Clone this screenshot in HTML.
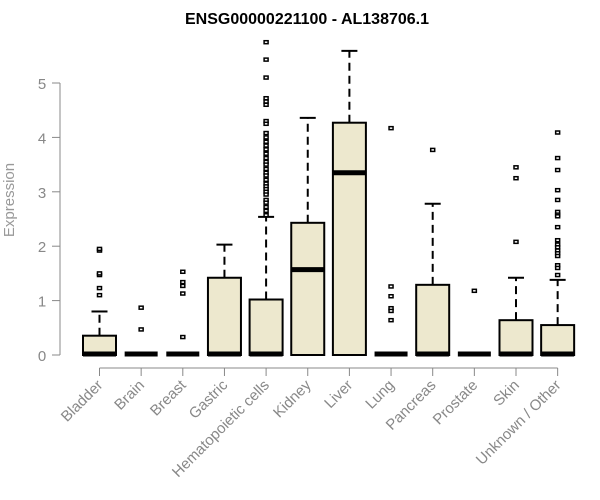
<!DOCTYPE html>
<html><head><meta charset="utf-8"><style>
body{margin:0;background:#fff;}
svg{display:block;font-family:"Liberation Sans",Arial,sans-serif;}
</style></head><body>
<svg id="chart" width="600" height="500" xmlns="http://www.w3.org/2000/svg">
<text x="307" y="24" text-anchor="middle" font-weight="bold" font-size="16" fill="#000">ENSG00000221100 - AL138706.1</text>
<text transform="translate(14,200) rotate(-90)" text-anchor="middle" font-size="15" fill="#999">Expression</text>
<g id="yaxis"></g>
<g id="xaxis"></g>
<g id="boxes"></g>
</svg>
<script>
const categories=["Bladder","Brain","Breast","Gastric","Hematopoietic cells","Kidney","Liver","Lung","Pancreas","Prostate","Skin","Unknown / Other"];
const q1=[0,0,0,0,0,0,0,0,0,0,0,0];
const medians=[0,0,0,0,0,1.57,3.35,0,0,0,0,0];
const q3=[0.355,0,0,1.42,1.02,2.43,4.27,0,1.29,0,0.64,0.55];
const whiskHi=[0.8,0,0,2.03,2.54,4.36,5.59,0,2.78,0,1.42,1.38];
const outliers=[
 [1.92,1.95,1.47,1.5,1.23,1.1],
 [0.87,0.47],
 [1.53,1.34,1.27,1.13,0.33],
 [],
 [5.75,5.43,5.1,4.72,4.66,4.6,4.3,4.25,4.08,4.0,3.92,3.85,3.78,3.7,3.62,3.55,3.5,3.42,3.35,3.3,3.22,3.15,3.1,3.05,3.0,2.95,2.85,2.8,2.72,2.65,2.57],
 [],[],
 [4.17,1.26,1.08,0.86,0.81,0.64],
 [3.77],
 [1.18],
 [3.45,3.25,2.08],
 [4.09,3.62,3.4,3.03,2.85,2.63,2.58,2.55,2.35,2.11,2.03,1.98,1.92,1.87,1.82,1.65,1.6,1.47]
];
const yTicks=[0,1,2,3,4,5];
const NS="http://www.w3.org/2000/svg";
const y=v=>355-v*54.4;
const x=i=>99.5+41.65*i;
function mk(tag,attrs,parent){const e=document.createElementNS(NS,tag);for(const k in attrs)e.setAttribute(k,attrs[k]);parent.appendChild(e);return e;}
const ya=document.getElementById('yaxis'),xa=document.getElementById('xaxis'),bx=document.getElementById('boxes');
let l=mk('line',{x1:60,x2:60,y1:y(0),y2:y(5),stroke:'#888','stroke-width':1},ya);


yTicks.forEach(t=>{
 let tk=mk('line',{x1:52,x2:60,y1:y(t),y2:y(t),stroke:'#888'},ya);
 
 
 let tx=mk('text',{x:42,y:y(t)+6,'text-anchor':'middle','font-size':15,fill:'#888'},ya);
 tx.textContent=t;
 
 
});
l=mk('line',{x1:x(0),x2:x(categories.length-1),y1:368,y2:368,stroke:'#888'},xa);


categories.forEach((c,i)=>{
 let tk=mk('line',{x1:x(i),x2:x(i),y1:368,y2:376,stroke:'#888'},xa);
 
 
 let tx=mk('text',{transform:`translate(${x(i)+4},386) rotate(-45)`,'text-anchor':'end','font-size':15,fill:'#888'},xa);
 tx.textContent=c;
 
 
 const g=mk('g',{},bx);
 
 
 const cx=x(i),hw=16.5;
 if(whiskHi[i]>q3[i]){
  mk('line',{x1:cx,x2:cx,y1:y(q3[i]),y2:y(whiskHi[i]),stroke:'#000','stroke-width':2,'stroke-dasharray':'8,5'},g);
  mk('line',{x1:cx-8,x2:cx+8,y1:y(whiskHi[i]),y2:y(whiskHi[i]),stroke:'#000','stroke-width':2},g);
 }
 mk('rect',{x:cx-hw,y:y(q3[i]),width:hw*2,height:Math.max(0,y(q1[i])-y(q3[i])),fill:'#EDE8CE',stroke:'#000','stroke-width':2},g);
 let my=y(medians[i]); if(medians[i]===0) my-=1;
 mk('line',{x1:cx-hw,x2:cx+hw,y1:my,y2:my,stroke:'#000','stroke-width':5},g);
 outliers[i].forEach(v=>{
  const p=mk('rect',{x:cx-2,y:y(v)-1.5,width:4,height:3,fill:'#fff',stroke:'#000','stroke-width':1.5},g);
  
  
 });
});
</script>
</body></html>
